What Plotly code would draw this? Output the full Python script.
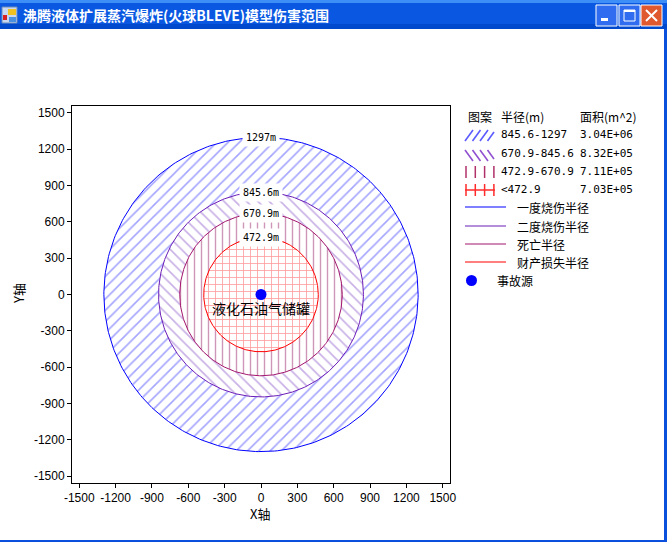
import numpy as np
import plotly.graph_objects as go

W, H = 667, 542

# data
radii = [1297, 845.6, 670.9, 472.9]
radius_labels = ["1297m", "845.6m", "670.9m", "472.9m"]
range_labels = ["845.6-1297", "670.9-845.6", "472.9-670.9", "<472.9"]
areas = ["3.04E+06", "8.32E+05", "7.11E+05", "7.03E+05"]
line_names = ["一度烧伤半径", "二度烧伤半径", "死亡半径", "财产损失半径"]
source_x = [0]
source_y = [0]
source_name = "液化石油气储罐"
tick_vals = [-1500, -1200, -900, -600, -300, 0, 300, 600, 900, 1200, 1500]

line_colors = ["#0000ff", "#6a1cb8", "#a3166e", "#ff0000"]
pattern_shapes = ["/", "\\", "|", "+"]
pattern_colors = ["#4a4aff", "#9060cc", "#a03070", "#ff3a3a"]
pattern_sizes = [8, 8, 7, 7]
pattern_solid = [0.2, 0.2, 0.2, 0.22]

CJK = "Noto Sans CJK SC"
MONO = "DejaVu Sans Mono"

fig = go.Figure()

theta = np.linspace(0, 2 * np.pi, 361)
for r, lc, ps, pc, sz, so in zip(radii, line_colors, pattern_shapes, pattern_colors, pattern_sizes, pattern_solid):
    fig.add_trace(go.Scatter(
        x=r * np.cos(theta), y=r * np.sin(theta),
        mode="lines", fill="toself", fillcolor="white",
        fillpattern=dict(shape=ps, fgcolor=pc, bgcolor="white", size=sz, solidity=so),
        line=dict(color=lc, width=1),
        hoverinfo="skip", showlegend=False,
    ))

fig.add_trace(go.Scatter(
    x=source_x, y=source_y, mode="markers",
    marker=dict(color="#0000ff", size=11),
    showlegend=False, hoverinfo="skip",
))

# pixel overlay axes (page pixels) for window chrome and legend
fig.add_trace(go.Scatter(x=[None], y=[None], xaxis="x2", yaxis="y2", showlegend=False))

annotations = []
for r, lab in zip(radii, radius_labels):
    annotations.append(dict(x=0, y=r, xref="x", yref="y", text=lab, showarrow=False,
                            bgcolor="white", borderpad=3,
                            font=dict(family=MONO, size=10, color="black")))
annotations.append(dict(x=source_x[0], y=source_y[0], xref="x", yref="y", text=source_name,
                        showarrow=False, yshift=-13, font=dict(family=CJK, size=14, color="black")))

# axis titles
annotations.append(dict(x=260, y=513, xref="x2", yref="y2", text="X轴", showarrow=False,
                        font=dict(family=CJK, size=13, color="black")))
annotations.append(dict(x=18, y=294, xref="x2", yref="y2", text="Y轴", showarrow=False, textangle=-90,
                        font=dict(family=CJK, size=13, color="black")))

# legend
def txt(x, y, s, fam, size=12):
    annotations.append(dict(x=x, y=y, xref="x2", yref="y2", text=s, showarrow=False,
                            xanchor="left", yanchor="middle",
                            font=dict(family=fam, size=size, color="black")))

txt(466, 116, "图案", CJK)
txt(499, 116, "半径(m)", CJK)
txt(578, 116, "面积(m^2)", CJK)
row_y = [134, 153, 171, 189]
for ry, rl, ar in zip(row_y, range_labels, areas):
    txt(499, ry, rl, MONO, 11)
    txt(578, ry, ar, MONO, 11)
line_y = [207, 226, 244, 262]
for ly, nm in zip(line_y, line_names):
    txt(515, ly, nm, CJK)
txt(495, 280, "事故源", CJK)

# title
annotations.append(dict(x=21, y=15, xref="x2", yref="y2", text="<b>沸腾液体扩展蒸汽爆炸(火球BLEVE)模型伤害范围</b>",
                        showarrow=False, xanchor="left", yanchor="middle",
                        font=dict(family=CJK, size=14, color="white")))

shapes = []
def rect(x0, y0, x1, y1, fill, line=None, lw=0):
    shapes.append(dict(type="rect", xref="x2", yref="y2", x0=x0, y0=y0, x1=x1, y1=y1,
                       fillcolor=fill, line=dict(color=line or fill, width=lw)))

def seg(x0, y0, x1, y1, color, w=1):
    shapes.append(dict(type="line", xref="x2", yref="y2", x0=x0, y0=y0, x1=x1, y1=y1,
                       line=dict(color=color, width=w)))

# window chrome
rect(0, 0, W, 29, "#0a58e2")
rect(0, 0, W, 3, "#3d8ef6")
rect(0, 24, W, 29, "#0048cc")
rect(664, 29, W, H, "#0a50dc")
rect(0, 540, W, H, "#0a50dc")
rect(2, 7, 17, 23, "#c8d8f0", "#6a8ab8", 1)
rect(8, 9, 16, 15, "#f0c020")
rect(3, 15, 7, 20, "#d82020")
rect(9, 17, 16, 22, "#4a90e0")
rect(596, 5, 617, 26, "#2f6cf0", "white", 1)
rect(619, 5, 640, 26, "#2f6cf0", "white", 1)
rect(641, 5, 662, 26, "#e0582e", "white", 1)
rect(601, 18, 608, 21, "white")
rect(624, 10, 635, 21, "rgba(0,0,0,0)", "white", 1)
rect(624, 10, 635, 12, "white")
seg(646, 10, 657, 21, "white", 2)
seg(657, 10, 646, 21, "white", 2)

# legend swatches
for k in range(4):
    x = 465 + 7.5 * k
    x1 = min(x + 8, 494)
    seg(x, 141, x1, 141 - 11 * (x1 - x) / 8, "#5a5aff", 1.6)
for k in range(4):
    x = 465 + 7.5 * k
    x1 = min(x + 8, 494)
    seg(x, 150, x1, 150 + 11 * (x1 - x) / 8, "#9050d0", 1.6)
for k in range(4):
    x = 466 + 9.3 * k
    seg(x, 166, x, 178, "#b0306a", 1.5)
seg(465, 190, 495, 190, "#ff2a2a", 1.5)
for k in range(4):
    x = 466 + 9.3 * k
    seg(x, 184, x, 196, "#ff2a2a", 1.5)
for ly, lc in zip(line_y, line_colors):
    seg(465, ly, 506, ly, lc, 1.2)
shapes.append(dict(type="circle", xref="x2", yref="y2", x0=466, y0=275, x1=477, y1=286,
                   fillcolor="#0000ff", line=dict(color="#0000ff", width=0)))

axis_common = dict(showgrid=False, zeroline=False, showline=True, mirror=True,
                   linecolor="black", linewidth=1, ticks="outside", ticklen=4,
                   tickcolor="black", tickvals=tick_vals, ticktext=[str(v) for v in tick_vals],
                   tickfont=dict(family="Liberation Sans", size=12, color="black"),
                   fixedrange=True)

fig.update_layout(
    autosize=True, margin=dict(l=0, r=0, t=0, b=0, autoexpand=False),
    paper_bgcolor="white", plot_bgcolor="rgba(0,0,0,0)",
    xaxis=dict(domain=[72 / W, 450 / W], range=[-1560, 1560], anchor="y", **axis_common),
    yaxis=dict(domain=[1 - 483 / H, 1 - 106 / H], range=[-1556, 1556], anchor="x", **axis_common),
    xaxis2=dict(domain=[0, 1], range=[0, W], visible=False, anchor="y2", fixedrange=True),
    yaxis2=dict(domain=[0, 1], range=[H, 0], visible=False, anchor="x2", fixedrange=True),
    annotations=annotations, shapes=shapes, showlegend=False,
)

# the div is pinned to the page corner so the default body margin does not shift it
fig.write_html("out.html", config={"displayModeBar": False},
               default_width=f"{W}px; position:absolute; left:0; top:0",
               default_height=f"{H}px")
